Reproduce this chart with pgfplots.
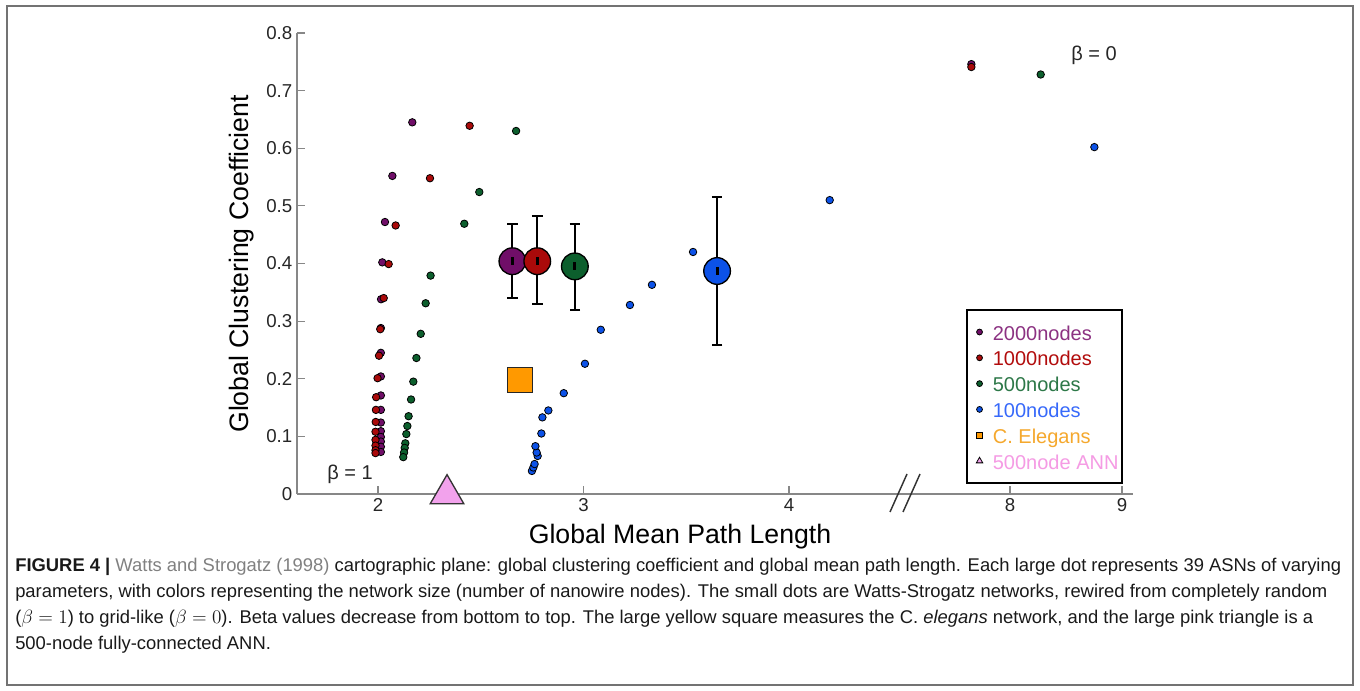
\documentclass[border=0pt]{standalone}
\usepackage{fontspec}
\setmainfont{Liberation Sans}
\usepackage{pgfplots}
\pgfplotsset{compat=1.18}
\definecolor{cpur}{RGB}{112,14,104}
\definecolor{cred}{RGB}{170,10,10}
\definecolor{cgreen}{RGB}{12,95,45}
\definecolor{cblue}{RGB}{12,82,232}
\definecolor{corange}{RGB}{255,153,0}
\definecolor{cpink}{RGB}{242,162,236}
\definecolor{tpur}{RGB}{140,50,130}
\definecolor{tred}{RGB}{178,12,12}
\definecolor{tgreen}{RGB}{45,120,72}
\definecolor{tblue}{RGB}{55,105,250}
\definecolor{torange}{RGB}{245,168,45}
\definecolor{tpink}{RGB}{245,155,228}
\definecolor{axgray}{RGB}{135,135,135}

\pgfplotstableread{
x y
2.167 0.645
2.070 0.552
2.034 0.472
2.021 0.402
2.015 0.338
2.014 0.288
2.014 0.245
2.014 0.204
2.014 0.171
2.014 0.146
2.014 0.124
2.014 0.109
2.014 0.099
2.014 0.091
2.014 0.082
2.014 0.073
}\purA
\pgfplotstableread{
x y
2.446 0.639
2.253 0.548
2.086 0.466
2.052 0.399
2.028 0.340
2.011 0.286
2.005 0.240
1.998 0.201
1.991 0.168
1.990 0.146
1.989 0.125
1.988 0.108
1.988 0.094
1.988 0.084
1.988 0.076
1.988 0.071
}\redA
\pgfplotstableread{
x y
2.672 0.630
2.493 0.524
2.420 0.469
2.256 0.379
2.232 0.331
2.208 0.278
2.187 0.236
2.172 0.195
2.161 0.164
2.149 0.135
2.143 0.118
2.138 0.104
2.133 0.088
2.130 0.080
2.127 0.072
2.123 0.064
}\greenA
\pgfplotstableread{
x y
2.749 0.040
2.756 0.046
2.762 0.052
2.777 0.066
2.772 0.072
2.766 0.083
2.795 0.105
2.800 0.133
2.829 0.145
2.904 0.175
3.007 0.226
3.084 0.285
3.226 0.328
3.333 0.363
3.533 0.420
4.198 0.510
}\blueA

\pgfplotsset{
  base/.style={
    scale only axis, clip=false,
    ymin=0, ymax=0.8, height=345.75pt,
    anchor=south west,
    axis line style={-, draw=axgray, line width=1pt},
    tick style={draw=axgray, line width=0.8pt},
    tick align=inside, major tick length=6pt,
    ticklabel style={font=\fontsize{14}{14}\selectfont, text=black!85},
    /pgf/number format/assume math mode=true,
    axis x line*=bottom,
  },
  small/.style={only marks, mark=*, mark size=2.8pt, mark options={fill=#1, draw=black, line width=0.6pt}},
  big/.style={only marks, mark=*, mark size=10pt, mark options={fill=#1, draw=black, line width=1pt}},
}

\begin{document}
\begin{tikzpicture}
\begin{scope}[x=0.75pt,y=-0.75pt]
\path (0,0) rectangle (1360,691);
\draw[black!55, line width=1.4pt] (7,6) rectangle (1353,685);
\end{scope}

\begin{axis}[base,
  at={(222.75pt,-370.5pt)}, width=452.25pt,
  xmin=1.606, xmax=4.540, xtick={2,3,4},
  axis y line*=left,
  ytick={0,0.1,0.2,0.3,0.4,0.5,0.6,0.7,0.8},
  yticklabels={0,0.1,0.2,0.3,0.4,0.5,0.6,0.7,0.8},
]
\addplot[small=cpur] table[x=x,y=y]{\purA};
\addplot[small=cred] table[x=x,y=y]{\redA};
\addplot[small=cgreen] table[x=x,y=y]{\greenA};
\addplot[small=cblue] table[x=x,y=y]{\blueA};
% error bars
\addplot[only marks, mark=none, black,
  error bars/.cd, y dir=both, y explicit,
  error bar style={line width=1.5pt, black},
  error mark options={rotate=90, mark size=4pt, line width=1.5pt, black}]
  coordinates {
  (2.654,0.404) += (0,0.065) -= (0,0.063)
  (2.775,0.404) += (0,0.078) -= (0,0.074)
  (2.958,0.395) += (0,0.073) -= (0,0.075)
  (3.650,0.387) += (0,0.128) -= (0,0.128)
  };
\addplot[big=cpur] coordinates {(2.654,0.404)};
\addplot[big=cred] coordinates {(2.775,0.404)};
\addplot[big=cgreen] coordinates {(2.958,0.395)};
\addplot[big=cblue] coordinates {(3.650,0.387)};
\addplot[only marks, mark=|, mark size=3pt, mark options={line width=2.2pt, black}]
  coordinates {(2.654,0.404) (2.775,0.404) (2.958,0.395) (3.650,0.387)};
\addplot[only marks, mark=square*, mark size=9.25pt, mark options={fill=corange, draw=black!85, line width=1pt}]
  coordinates {(2.691,0.198)};
\addplot[only marks, mark=triangle*, mark size=14.5pt, mark options={fill=cpink, draw=black!80, line width=1pt}]
  coordinates {(2.336,0.0)};
\end{axis}

\begin{axis}[base,
  at={(675pt,-370.5pt)}, width=174.75pt,
  xmin=7.018, xmax=9.098, xtick={8,9},
  axis y line=none, ytick=\empty,
  legend cell align=left,
  legend style={at={(0.957,0.401)}, anchor=north east, draw=black, line width=1.5pt,
    fill=white, font=\fontsize{15}{15}\selectfont, inner xsep=1pt, inner ysep=6.8pt,
    row sep=0.15pt, column sep=0pt,
    nodes={inner sep=1.6pt, text height=14pt, text depth=2pt}},
  legend image code/.code={\path[draw=none, fill=none] (1.5pt,0pt) -- (18.4pt,0pt); \draw[#1] plot coordinates {(10pt,0pt)};},
]
\addplot[small=cpur, forget plot] coordinates {(7.655,0.746)};
\addplot[small=cred, forget plot] coordinates {(7.655,0.741)};
\addplot[small=cgreen, forget plot] coordinates {(8.274,0.728)};
\addplot[small=cblue, forget plot] coordinates {(8.753,0.602)};
\addlegendimage{only marks, mark=*, mark size=2.2pt, mark options={fill=cpur, draw=black, line width=0.6pt}}
\addlegendentry{\textcolor{tpur}{2000nodes}}
\addlegendimage{only marks, mark=*, mark size=2.2pt, mark options={fill=cred, draw=black, line width=0.6pt}}
\addlegendentry{\textcolor{tred}{1000nodes}}
\addlegendimage{only marks, mark=*, mark size=2.2pt, mark options={fill=cgreen, draw=black, line width=0.6pt}}
\addlegendentry{\textcolor{tgreen}{500nodes}}
\addlegendimage{only marks, mark=*, mark size=2.2pt, mark options={fill=cblue, draw=black, line width=0.6pt}}
\addlegendentry{\textcolor{tblue}{100nodes}}
\addlegendimage{only marks, mark=square*, mark size=2.2pt, mark options={fill=corange, draw=black, line width=0.6pt}}
\addlegendentry{\textcolor{torange}{C. Elegans}}
\addlegendimage{only marks, mark=triangle*, mark size=2.8pt, mark options={fill=cpink, draw=black, line width=0.6pt}}
\addlegendentry{\textcolor{tpink}{500node ANN}}
\end{axis}

\begin{scope}[x=0.75pt,y=-0.75pt]
% axis break marks
\draw[black!80, line width=1.1pt] (890,512) -- (907,474);
\draw[black!80, line width=1.1pt] (903,512) -- (920,474);
% beta labels
\node[font=\fontsize{15}{15}\selectfont, text=black!85] at (350,474) {β = 1};
\node[font=\fontsize{15}{15}\selectfont, text=black!85] at (1094,55) {β = 0};
% axis labels
\node[font=\fontsize{20}{20}\selectfont] at (680,537) {Global Mean Path Length};
\node[font=\fontsize{20}{20}\selectfont, rotate=90] at (242,264) {Global Clustering Coefficient};
% caption
\begin{scope}[every node/.style={anchor=base west, inner sep=0pt, font=\fontsize{13.8}{13.8}\selectfont, text=black!90}]
\node at (15,571) {\textbf{FIGURE 4 |} \textcolor{black!50}{Watts and Strogatz (1998)} cartographic plane: global clustering coefficient and global mean path length. Each large dot represents 39 ASNs of varying};
\node at (15,597) {parameters, with colors representing the network size (number of nanowire nodes). The small dots are Watts-Strogatz networks, rewired from completely random};
\node at (15,623) {($\beta = 1$) to grid-like ($\beta = 0$). Beta values decrease from bottom to top. The large yellow square measures the C. \textit{elegans} network, and the large pink triangle is a};
\node at (15,649) {500-node fully-connected ANN.};
\end{scope}
\end{scope}
\end{tikzpicture}
\end{document}
